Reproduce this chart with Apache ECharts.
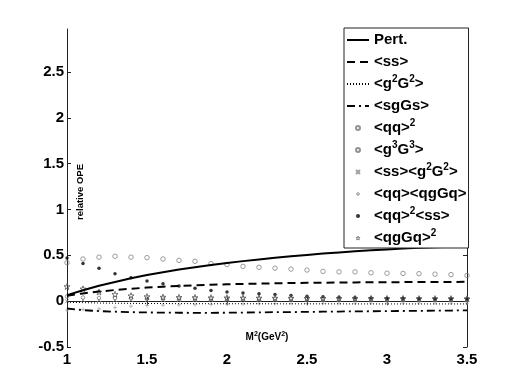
<!DOCTYPE html>
<html>
<head>
<meta charset="utf-8">
<script src="https://cdn.jsdelivr.net/npm/echarts@6/dist/echarts.min.js"></script>
<style>
  html, body { margin: 0; padding: 0; background: #fff; }
  #chart { width: 516px; height: 391px; }
</style>
</head>
<body>
<div id="chart"></div>
<script>
// M^2 (GeV^2) sample points
const mSq = [1.0, 1.1, 1.2, 1.3, 1.4, 1.5, 1.6, 1.7, 1.8, 1.9, 2.0, 2.1, 2.2,
             2.3, 2.4, 2.5, 2.6, 2.7, 2.8, 2.9, 3.0, 3.1, 3.2, 3.3, 3.4, 3.5];

// curves
const pert = [0.066, 0.12, 0.168, 0.21, 0.25, 0.285, 0.316, 0.345, 0.37, 0.395, 0.417, 0.437, 0.456,
              0.474, 0.49, 0.505, 0.519, 0.532, 0.544, 0.555, 0.565, 0.574, 0.582, 0.589, 0.595, 0.6];
const ss = [0.06, 0.085, 0.105, 0.122, 0.136, 0.148, 0.158, 0.166, 0.173, 0.179, 0.184, 0.188, 0.192,
            0.195, 0.198, 0.2, 0.202, 0.204, 0.205, 0.206, 0.207, 0.208, 0.209, 0.21, 0.21, 0.211];
const g2G2 = [-0.012, -0.016, -0.02, -0.022, -0.024, -0.025, -0.026, -0.027, -0.027, -0.028, -0.028, -0.028, -0.028,
              -0.029, -0.029, -0.029, -0.029, -0.029, -0.03, -0.03, -0.03, -0.03, -0.03, -0.03, -0.03, -0.03];
const sgGs = [-0.08, -0.098, -0.108, -0.115, -0.12, -0.123, -0.125, -0.126, -0.127, -0.127, -0.126, -0.124, -0.122,
              -0.12, -0.119, -0.117, -0.115, -0.113, -0.111, -0.11, -0.108, -0.107, -0.105, -0.104, -0.102, -0.1];

// marker series
const qq2 = [0.42, 0.46, 0.48, 0.49, 0.48, 0.475, 0.46, 0.445, 0.435, 0.41, 0.4, 0.38, 0.37,
             0.36, 0.35, 0.34, 0.325, 0.32, 0.32, 0.31, 0.305, 0.303, 0.3, 0.295, 0.29, 0.28];
const g3G3 = [0.05, 0.04, 0.035, 0.033, 0.031, 0.03, 0.03, 0.029, 0.029, 0.028, 0.028, 0.028, 0.027,
              0.027, 0.027, 0.026, 0.026, 0.026, 0.026, 0.025, 0.025, 0.025, 0.025, 0.025, 0.025, 0.025];
const ssg2G2 = [0.0, 0.012, 0.013, 0.013, 0.014, 0.014, 0.014, 0.014, 0.014, 0.015, 0.015, 0.015, 0.015,
                0.015, 0.015, 0.015, 0.015, 0.015, 0.015, 0.015, 0.015, 0.015, 0.015, 0.015, 0.015, 0.015];
const qqqgGq = [-0.1, -0.09, -0.085, -0.07, -0.055, -0.047, -0.043, -0.04, -0.038, -0.035, -0.032, -0.03, -0.028,
                -0.026, -0.025, -0.024, -0.023, -0.022, -0.021, -0.02, -0.02, -0.02, -0.02, -0.02, -0.02, -0.02];
const qq2ss = [0.47, 0.41, 0.36, 0.3, 0.256, 0.22, 0.19, 0.165, 0.14, 0.117, 0.1, 0.09, 0.08,
               0.073, 0.062, 0.055, 0.048, 0.043, 0.039, 0.036, 0.033, 0.031, 0.029, 0.027, 0.026, 0.025];
const qgGq2 = [0.16, 0.135, 0.1, 0.075, 0.06, 0.05, 0.045, 0.042, 0.04, 0.038, 0.037, 0.036, 0.035,
               0.034, 0.033, 0.032, 0.031, 0.031, 0.03, 0.03, 0.029, 0.029, 0.028, 0.028, 0.028, 0.027];

const seriesNames = ["Pert.", "<ss>", "<g2G2>", "<sgGs>", "<qq>2", "<g3G3>",
                     "<ss><g2G2>", "<qq><qgGq>", "<qq>2<ss>", "<qgGq>2"];
const legendLabels = ["Pert.", "<ss>", "<g{sup|2}G{sup|2}>", "<sgGs>", "<qq>{sup|2}", "<g{sup|3}G{sup|3}>",
                      "<ss><g{sup|2}G{sup|2}>", "<qq><qgGq>", "<qq>{sup|2}<ss>", "<qgGq>{sup|2}"];

const xTicks = [1, 1.5, 2, 2.5, 3, 3.5];
const yTicks = [-0.5, 0, 0.5, 1, 1.5, 2, 2.5];

const FONT = "'Liberation Sans', Arial, Helvetica, sans-serif";
const pts = (ys) => mSq.map((x, i) => [x, ys[i]]);

const starPath = "path://M5,0L6.2,3.6L10,3.6L6.9,5.9L8.1,9.5L5,7.3L1.9,9.5L3.1,5.9L0,3.6L3.8,3.6Z";
const crossPath = "path://M0,0L10,10M10,0L0,10";
const plusPath = "path://M5,0L5,10M0,5L10,5";

function lineSeries(name, data, type, width) {
  return {
    name, type: "line", data: pts(data), symbol: "none", silent: true,
    lineStyle: { color: "#000", width, type },
    itemStyle: { color: "#000" },
  };
}

function markSeries(name, data, symbol, size, itemStyle) {
  return {
    name, type: "scatter", data: pts(data), symbol, symbolSize: size, silent: true,
    itemStyle,
  };
}

const chart = echarts.init(document.getElementById("chart"), null, { renderer: "canvas" });

const axisCommon = {
  type: "value",
  axisLine: { show: true, lineStyle: { color: "#222", width: 1 } },
  axisTick: { show: true, inside: true, length: 4, lineStyle: { color: "#222" } },
  splitLine: { show: false },
};

const hidden = { color: "rgba(0,0,0,0)", borderColor: "rgba(0,0,0,0)", borderWidth: 0 };
// line entries get an invisible centre symbol in the legend; the star is drawn as an outline
const legendData = seriesNames.map((name, i) => {
  if (i < 4) return { name, itemStyle: hidden };
  if (i === 9) return { name, icon: starPath, itemStyle: { color: "rgba(0,0,0,0)", borderColor: "#555", borderWidth: 0.8 } };
  return { name };
});

const openCircle = { color: "rgba(0,0,0,0)", borderColor: "#777", borderWidth: 0.9 };

chart.setOption({
  animation: false,
  backgroundColor: "#fff",
  grid: { left: 67, right: 49, top: 29, bottom: 44 },
  xAxis: [
    {
      ...axisCommon, position: "bottom", min: xTicks[0], max: xTicks[xTicks.length - 1], interval: 0.5,
      axisLabel: { color: "#000", fontSize: 15, fontWeight: "bold", fontFamily: FONT, margin: 5 },
      name: "M{s|2}(GeV{s|2})",
      nameLocation: "middle",
      nameGap: -16,
      nameMoveOverlap: false,
      nameTextStyle: {
        color: "#000", fontSize: 10, fontWeight: "bold", fontFamily: FONT, lineHeight: 12,
        rich: { s: { fontSize: 7, fontWeight: "bold", fontFamily: FONT, lineHeight: 7, verticalAlign: "top" } },
      },
    },
    {
      ...axisCommon, position: "top", min: xTicks[0], max: xTicks[xTicks.length - 1], interval: 0.5,
      axisLabel: { show: false },
    },
  ],
  yAxis: [
    {
      ...axisCommon, position: "left", min: yTicks[0], max: 2.97, interval: 0.5,
      axisLabel: {
        color: "#000", fontSize: 15, fontWeight: "bold", fontFamily: FONT, margin: 3,
        showMaxLabel: false,
        formatter: (v) => (yTicks.includes(v) ? String(v) : ""),
      },
      name: "relative OPE",
      nameLocation: "middle",
      nameRotate: 90,
      nameGap: -18,
      nameMoveOverlap: false,
      nameTextStyle: { color: "#000", fontSize: 9.5, fontWeight: "bold", fontFamily: FONT, padding: [0, 8, 0, 0] },
    },
    {
      ...axisCommon, position: "right", min: yTicks[0], max: 2.97, interval: 0.5,
      axisLabel: { show: false },
    },
  ],
  legend: {
    orient: "vertical",
    left: 344,
    top: 28,
    padding: [2, 2, 0, 2],
    itemWidth: 22,
    itemHeight: 4,
    itemGap: 2,
    backgroundColor: "#fff",
    borderColor: "#222",
    borderWidth: 1,
    borderRadius: 0,
    data: legendData,
    formatter: (name) => legendLabels[seriesNames.indexOf(name)],
    textStyle: {
      color: "#000", fontSize: 15, fontWeight: "bold", fontFamily: FONT, lineHeight: 20,
      rich: {
        sup: { color: "#000", fontSize: 10, fontWeight: "bold", fontFamily: FONT, lineHeight: 10, verticalAlign: "top" },
      },
    },
  },
  series: [
    lineSeries(seriesNames[0], pert, "solid", 2),
    lineSeries(seriesNames[1], ss, [8, 5], 2),
    lineSeries(seriesNames[2], g2G2, [1, 2], 1),
    lineSeries(seriesNames[3], sgGs, [8, 4, 2, 4], 1.8),
    markSeries(seriesNames[4], qq2, "circle", 4.5, openCircle),
    markSeries(seriesNames[5], g3G3, "circle", 3.5, openCircle),
    markSeries(seriesNames[6], ssg2G2, crossPath, 4, { color: "transparent", borderColor: "#888", borderWidth: 1 }),
    markSeries(seriesNames[7], qqqgGq, plusPath, 4, { color: "transparent", borderColor: "#aaa", borderWidth: 1 }),
    markSeries(seriesNames[8], qq2ss, "circle", 3.5, { color: "#000" }),
    markSeries(seriesNames[9], qgGq2, starPath, 6, { color: "transparent", borderColor: "#555", borderWidth: 1 }),
  ],
});
</script>
</body>
</html>
